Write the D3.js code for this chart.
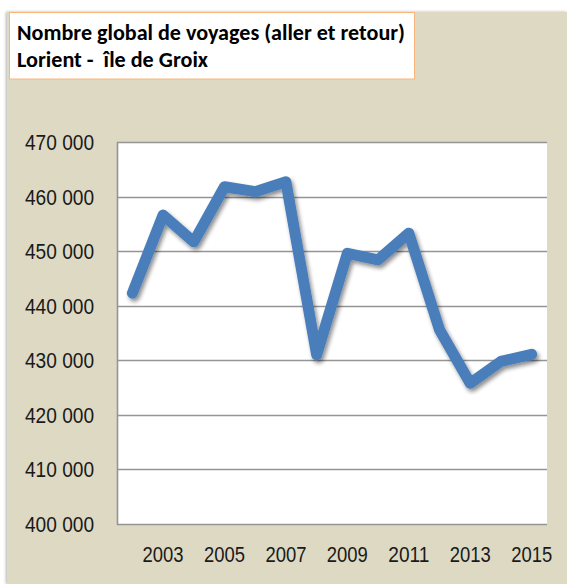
<!DOCTYPE html>
<html>
<head>
<meta charset="utf-8">
<script src="https://cdn.jsdelivr.net/npm/d3@7"></script>
<style>
  html, body { margin: 0; padding: 0; background: #ffffff; }
  svg { display: block; }
  .pre { white-space: pre; }
</style>
</head>
<body>
<svg id="chart" width="567" height="584"></svg>
<script>
// ---- data ----
const titleLines = ["Nombre global de voyages (aller et retour)", "Lorient -  île de Groix"];
const years = [2002, 2003, 2004, 2005, 2006, 2007, 2008, 2009, 2010, 2011, 2012, 2013, 2014, 2015];
const voyages = [442300, 456600, 451700, 461800, 460900, 462700, 431000, 449600, 448400, 453300, 435600, 425800, 429800, 431100];
const yTicks = [400000, 410000, 420000, 430000, 440000, 450000, 460000, 470000];
const xTickLabels = [2003, 2005, 2007, 2009, 2011, 2013, 2015];

const svg = d3.select("#chart");
const W = 567, H = 584;
const plot = { left: 117, right: 547, top: 142, bottom: 524 };

const defs = svg.append("defs");
const sh = defs.append("filter").attr("id", "lineShadow")
  .attr("x", "-10%").attr("y", "-10%").attr("width", "120%").attr("height", "130%");
sh.append("feGaussianBlur").attr("in", "SourceAlpha").attr("stdDeviation", 2).attr("result", "b");
sh.append("feOffset").attr("in", "b").attr("dx", 2).attr("dy", 3).attr("result", "o");
sh.append("feComponentTransfer").attr("in", "o").attr("result", "o2")
  .append("feFuncA").attr("type", "linear").attr("slope", 0.45);
const m = sh.append("feMerge");
m.append("feMergeNode").attr("in", "o2");
m.append("feMergeNode").attr("in", "SourceGraphic");

const bs = defs.append("filter").attr("id", "bgShadow")
  .attr("x", "-5%").attr("y", "-5%").attr("width", "110%").attr("height", "110%");
bs.append("feDropShadow").attr("dx", -1).attr("dy", 0).attr("stdDeviation", 1.5)
  .attr("flood-color", "#000").attr("flood-opacity", 0.3);

// beige background
svg.append("rect").attr("x", 7).attr("y", 12).attr("width", W - 7).attr("height", H - 12)
  .attr("fill", "#ddd9c3").attr("filter", "url(#bgShadow)");

// title box
svg.append("rect").attr("x", 9.5).attr("y", 12.5).attr("width", 405).attr("height", 66.5)
  .attr("fill", "#ffffff").attr("stroke", "#f9b67c").attr("stroke-width", 1);
const title = svg.append("g")
  .attr("font-family", "Carlito, Lato, 'Open Sans', sans-serif")
  .attr("font-weight", "bold").attr("font-size", 21.5).attr("fill", "#000");
title.append("text").attr("x", 17).attr("y", 39.5).text(titleLines[0])
  .attr("textLength", 388).attr("lengthAdjust", "spacingAndGlyphs");
title.append("text").attr("class", "pre").attr("x", 17).attr("y", 66.5).text(titleLines[1])
  .attr("textLength", 191).attr("lengthAdjust", "spacingAndGlyphs");

// scales
const x = d3.scaleBand().domain(years).range([plot.left, plot.right]);
const y = d3.scaleLinear().domain([400000, 470000]).range([plot.bottom, plot.top]);

// plot area
svg.append("rect").attr("x", plot.left).attr("y", plot.top)
  .attr("width", plot.right - plot.left).attr("height", plot.bottom - plot.top).attr("fill", "#ffffff");

// gridlines
svg.append("g").selectAll("line").data(yTicks).join("line")
  .attr("x1", plot.left).attr("x2", plot.right)
  .attr("y1", d => Math.round(y(d)) + 0.5).attr("y2", d => Math.round(y(d)) + 0.5)
  .attr("stroke", "#959595").attr("stroke-width", 1.6);

// left axis line
svg.append("line").attr("x1", plot.left + 0.5).attr("x2", plot.left + 0.5)
  .attr("y1", plot.top).attr("y2", plot.bottom + 1)
  .attr("stroke", "#959595").attr("stroke-width", 1.6);

// axes
const loc = d3.formatLocale({ decimal: ",", thousands: " ", grouping: [3], currency: ["", " €"] });
const fmt = loc.format(",");
const fontAxis = "'Liberation Sans', Arial, sans-serif";

const yAxis = svg.append("g").attr("transform", `translate(${plot.left},0)`)
  .call(d3.axisLeft(y).tickValues(yTicks).tickFormat(fmt).tickSize(0).tickPadding(23));
yAxis.select(".domain").remove();
yAxis.selectAll("text").attr("font-family", fontAxis).attr("font-size", 22.5).attr("fill", "#1a1a1a")
  .attr("textLength", 69).attr("lengthAdjust", "spacingAndGlyphs").attr("dy", "0.33em");

const xAxis = svg.append("g").attr("transform", `translate(0,${plot.bottom})`)
  .call(d3.axisBottom(x).tickValues(xTickLabels).tickSize(0).tickPadding(22));
xAxis.select(".domain").remove();
xAxis.selectAll("text").attr("font-family", fontAxis).attr("font-size", 22.5).attr("fill", "#1a1a1a")
  .attr("textLength", 41).attr("lengthAdjust", "spacingAndGlyphs");

// line
const line = d3.line()
  .x((d, i) => x(years[i]) + x.bandwidth() / 2)
  .y(d => y(d));
svg.append("path").datum(voyages)
  .attr("d", line)
  .attr("fill", "none")
  .attr("stroke", "#4a7ebb")
  .attr("stroke-width", 11)
  .attr("stroke-linejoin", "round")
  .attr("stroke-linecap", "round")
  .attr("filter", "url(#lineShadow)");
</script>
</body>
</html>
